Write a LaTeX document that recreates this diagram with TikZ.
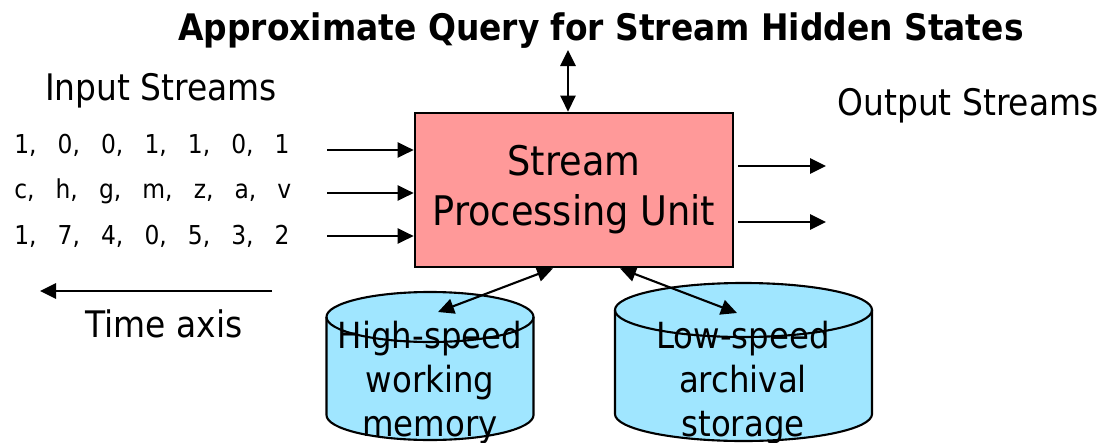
\documentclass[tikz,border=0pt]{standalone}
\usepackage{fontspec}
\setmainfont{DejaVu Sans Condensed}
\usetikzlibrary{arrows.meta}
\definecolor{unitPink}{HTML}{FF9999}
\definecolor{storeBlue}{HTML}{A0E6FF}
\newcommand{\seqsep}{,\hspace{15pt}}

\begin{document}
\begin{tikzpicture}[x=0.025cm, y=-0.025cm,
        unit/.style={draw, line width=1.9pt, fill=unitPink, minimum width=7.95cm, minimum height=3.85cm, align=center, font=\fontsize{29}{35.6}\selectfont},
        drum/.style={draw, line width=1.5pt, fill=storeBlue},
        storetext/.style={align=center, inner sep=0pt, font=\fontsize{25.6}{31.3}\selectfont},
        streamtext/.style={anchor=base, inner sep=0pt, font=\fontsize{26}{31}\selectfont},
        seq/.style={anchor=base west, inner sep=0pt, font=\fontsize{18.5}{20}\selectfont},
        arrow/.style={-{Triangle[length=4mm, width=3.8mm]}, line width=1.5pt},
        dblarrow/.style={{Triangle[length=4mm, width=3.8mm]}-{Triangle[length=4mm, width=3.8mm]}, line width=1.5pt}
    ]
        \useasboundingbox (0,0) rectangle (1107,442);

        \node[streamtext, font=\bfseries\fontsize{26}{31}\selectfont] (title) at (601,40) {Approximate Query for Stream Hidden States};
        \node[unit] (spu) at (574,190) {Stream\\Processing Unit};

        \node[streamtext] (instreams) at (161,100) {Input Streams};
        \node[streamtext] (outstreams) at (968,115) {Output Streams};

        \node[seq] (bits) at (14,153) {1\seqsep 0\seqsep 0\seqsep 1\seqsep 1\seqsep 0\seqsep 1};
        \node[seq] (chars) at (14,198) {c\seqsep h\seqsep g\seqsep m\seqsep z\seqsep a\seqsep v};
        \node[seq] (digits) at (14,244) {1\seqsep 7\seqsep 4\seqsep 0\seqsep 5\seqsep 3\seqsep 2};

        % query on top
        \coordinate (query) at (568,50);
        \draw[dblarrow] (query) -- (query |- spu.north);

        % input and output streams
        \foreach \y/\n in {150/1,193/2,236/3} {
            \coordinate (in\n) at (327,\y);
            \draw[arrow] (in\n) -- (in\n -| spu.west);
        }
        \foreach \y/\n in {166/1,222/2} {
            \coordinate (outs\n) at (738,\y);
            \coordinate (oute\n) at (826,\y);
            \draw[arrow] (outs\n) -- (oute\n);
        }

        % time axis
        \coordinate (tstart) at (272,291);
        \coordinate (tend) at (40,291);
        \draw[arrow] (tstart) -- (tend);
        \node[streamtext] (time) at (164,337) {Time axis};

        % storage drums
        \coordinate (fasttop) at (430,317);
        \coordinate (fastbot) at (430,415);
        \filldraw[drum] ([xshift=-2.5875cm]fasttop) -- ([xshift=-2.5875cm]fastbot)
            arc[start angle=180, end angle=360, x radius=2.5875cm, y radius=0.625cm]
            -- ([xshift=2.5875cm]fasttop)
            arc[start angle=0, end angle=180, x radius=2.5875cm, y radius=0.625cm] -- cycle;
        \draw[line width=1.5pt] ([xshift=2.5875cm]fasttop) arc[start angle=0, end angle=-180, x radius=2.5875cm, y radius=0.625cm];

        \coordinate (slowtop) at (743.5,310);
        \coordinate (slowbot) at (743.5,414);
        \filldraw[drum] ([xshift=-3.2125cm]slowtop) -- ([xshift=-3.2125cm]slowbot)
            arc[start angle=180, end angle=360, x radius=3.2125cm, y radius=0.675cm]
            -- ([xshift=3.2125cm]slowtop)
            arc[start angle=0, end angle=180, x radius=3.2125cm, y radius=0.675cm] -- cycle;
        \draw[line width=1.5pt] ([xshift=3.2125cm]slowtop) arc[start angle=0, end angle=-180, x radius=3.2125cm, y radius=0.675cm];

        \node[storetext] (fastmem) at (430,383) {High-speed\\working\\memory};
        \node[storetext] (slowmem) at (743,383) {Low-speed\\archival\\storage};

        \draw[dblarrow] ([xshift=-0.525cm]spu.south) -- ([shift={(8,-5)}]fasttop);
        \draw[dblarrow] ([xshift=1.15cm]spu.south) -- ([shift={(-6.5,3)}]slowtop);
    \end{tikzpicture}
\end{document}
